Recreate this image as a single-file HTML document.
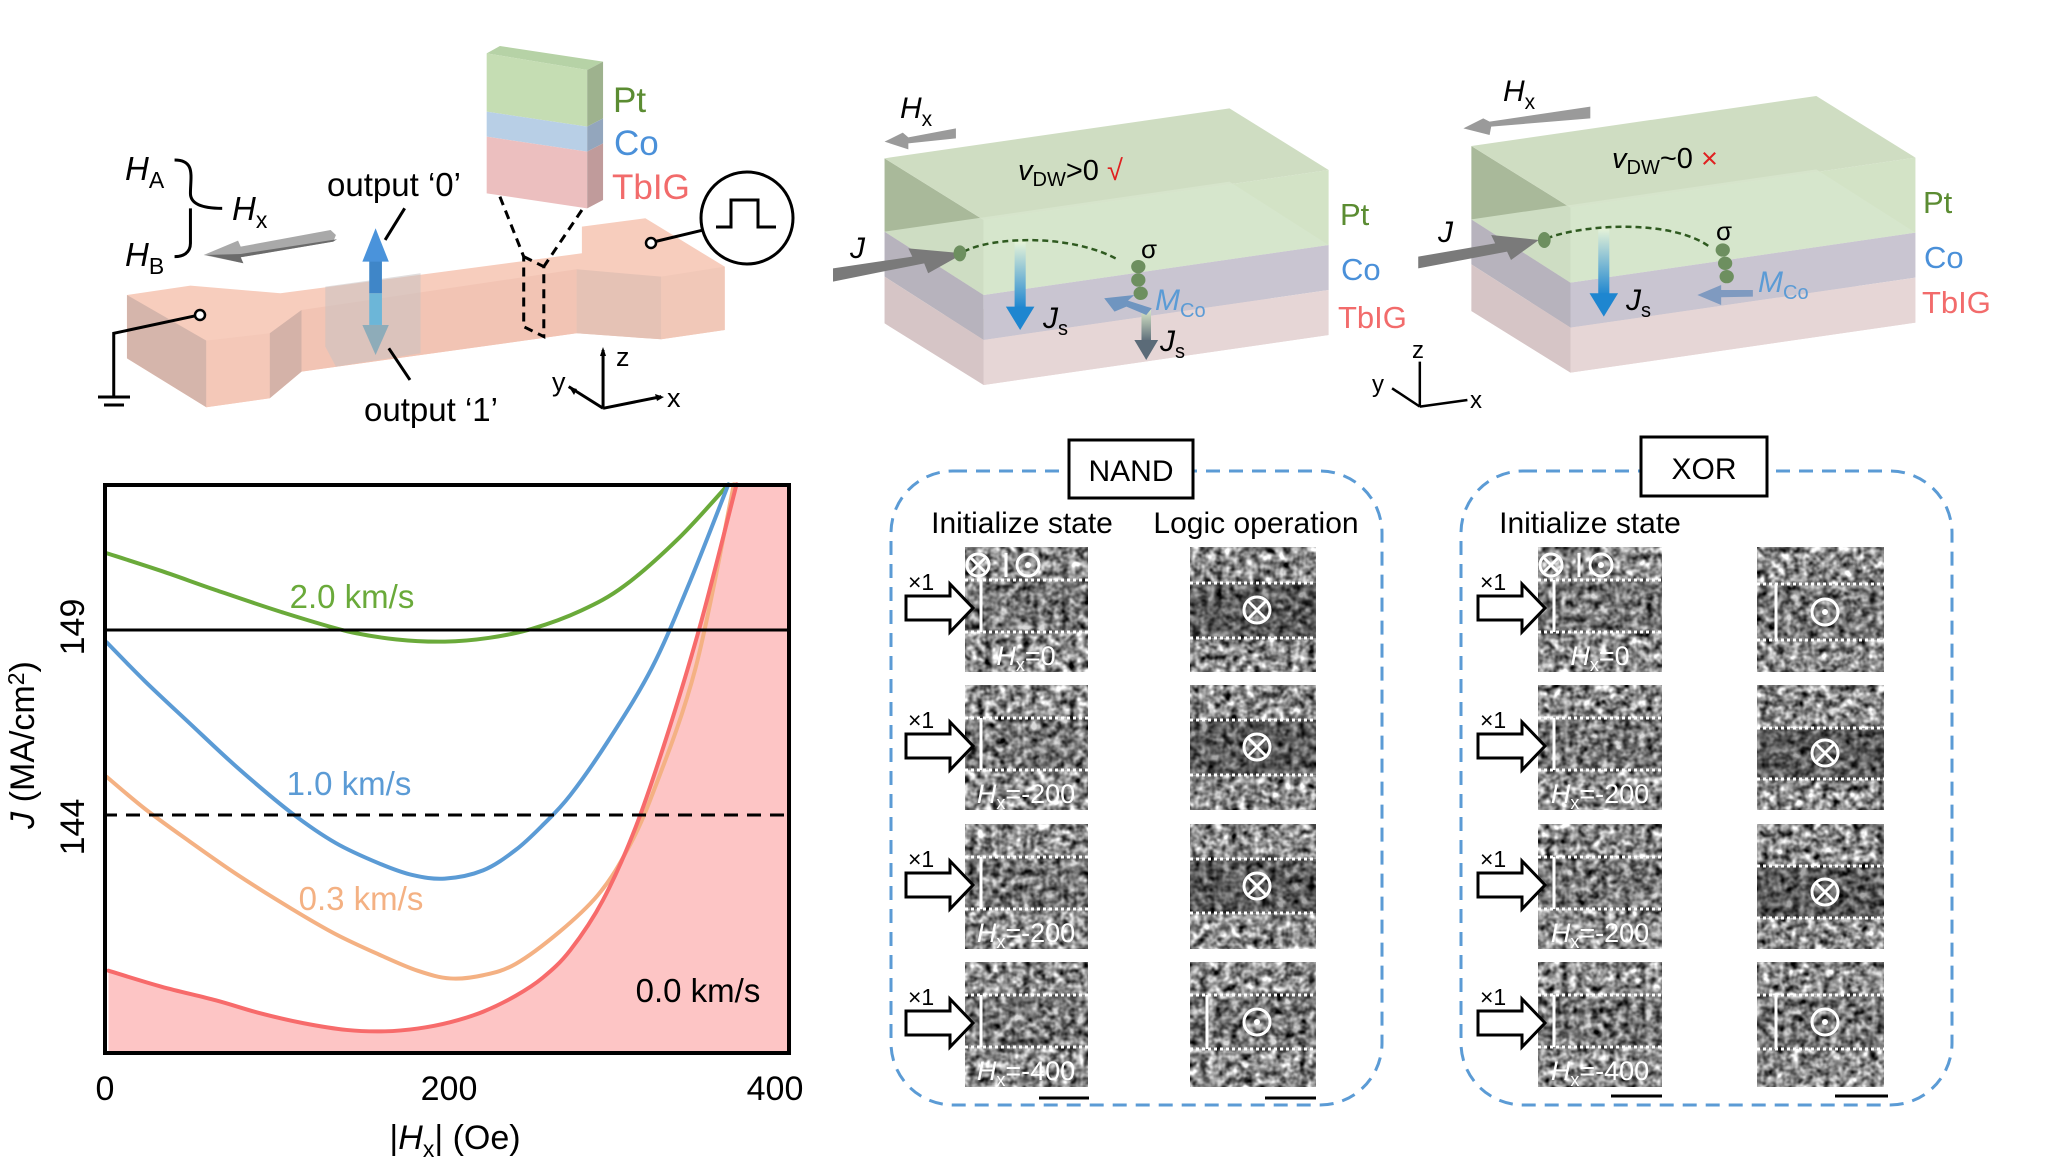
<!DOCTYPE html>
<html><head><meta charset="utf-8"><style>
html,body{margin:0;padding:0;background:#fff}
svg{display:block}
text{font-family:"Liberation Sans",sans-serif}
</style></head><body>
<svg id="root" width="2051" height="1162" viewBox="0 0 2051 1162" xmlns="http://www.w3.org/2000/svg">
<defs>
<filter id="nz" x="0" y="0" width="1" height="1" color-interpolation-filters="sRGB">
<feTurbulence type="fractalNoise" baseFrequency="0.13" numOctaves="2" seed="3"/>
<feColorMatrix type="matrix" values="1.1 1.1 0 0 -0.55  1.1 1.1 0 0 -0.55  1.1 1.1 0 0 -0.55  0 0 0 0 1"/>
</filter>
<linearGradient id="gjs" x1="0" y1="0" x2="0" y2="1"><stop offset="0" stop-color="#e6f3d8"/><stop offset="1" stop-color="#1e86d0"/></linearGradient>
<linearGradient id="gjs2" x1="0" y1="0" x2="0" y2="1"><stop offset="0" stop-color="#d8e6c8"/><stop offset="1" stop-color="#5b6b78"/></linearGradient>
</defs>

<!-- ============ TOP LEFT DEVICE ============ -->
<g transform="scale(0.529,0.3333)">
 <polygon points="240,885 360,857 530,880 1100,760 1100,680 1220,655 1370,800 1370,990 1250,1018 1090,1000 570,1115 510,1195 390,1222 240,1075" fill="#f7cdbd"/>
 <polygon points="240,885 390,1022 390,1222 240,1075" fill="#d5b5ab"/>
 <polygon points="390,1022 510,1000 510,1195 390,1222" fill="#f4c8b8"/>
 <polygon points="510,1000 570,930 570,1115 510,1195" fill="#d4b2a8"/>
 <polygon points="570,930 1090,808 1090,1000 570,1115" fill="#f2c4b4"/>
 <polygon points="1090,808 1250,830 1250,1018 1090,1000" fill="#e5c2b5"/>
 <polygon points="1250,830 1370,800 1370,990 1250,1018" fill="#f1c8b8"/>
 <polygon points="615,860 795,820 795,1060 635,1100 615,1040" fill="#c9c3c3" fill-opacity="0.55"/>
 <polygon points="920,160 945,138 1140,185 1110,210" fill="#b6d2a6"/>
 <polygon points="920,160 1110,210 1110,380 920,335" fill="#c5ddb3"/>
 <polygon points="920,335 1110,380 1110,455 920,410" fill="#b8cfe6"/>
 <polygon points="920,410 1110,455 1110,625 920,580" fill="#ecbfbf"/>
 <polygon points="1110,210 1140,185 1140,355 1110,380" fill="#9eb28e"/>
 <polygon points="1110,380 1140,355 1140,430 1110,455" fill="#93a6bd"/>
 <polygon points="1110,455 1140,430 1140,600 1110,625" fill="#c09b9b"/>
 <g fill="none" stroke="#000" stroke-width="3" stroke-dasharray="9 6">
  <line x1="945" y1="590" x2="990" y2="770" vector-effect="non-scaling-stroke"/>
  <line x1="1100" y1="630" x2="1028" y2="800" vector-effect="non-scaling-stroke"/>
  <polyline points="990,770 1028,800 1028,1010 990,980 990,770" vector-effect="non-scaling-stroke"/>
 </g>
 <polygon points="635,705 625,690 455,740 450,722 385,765 460,790 455,772 630,725" fill="#a9a9a9"/>
 <polygon points="390,765 460,790 455,772 630,725 637,718 455,762" fill="#6b6b6b"/>
 <rect x="698" y="780" width="24" height="100" fill="#3f86c8"/>
 <polygon points="685,785 710,685 735,785" fill="#4a93db"/>
 <rect x="698" y="880" width="24" height="95" fill="#6cb6d8"/>
 <polygon points="685,975 735,975 710,1065" fill="#7aa6b8" fill-opacity="0.8"/>
 <g stroke="#000" stroke-width="3" fill="none">
  <line x1="765" y1="625" x2="728" y2="720" vector-effect="non-scaling-stroke"/>
  <line x1="775" y1="1140" x2="735" y2="1045" vector-effect="non-scaling-stroke"/>
  <polyline points="377,945 215,1000 215,1190" vector-effect="non-scaling-stroke"/>
  <line x1="1230" y1="728" x2="1330" y2="690" vector-effect="non-scaling-stroke"/>
  <polyline points="1140,1225 1140,1050" vector-effect="non-scaling-stroke"/>
  <polyline points="1140,1225 1250,1190" vector-effect="non-scaling-stroke"/>
  <polyline points="1140,1225 1075,1160" vector-effect="non-scaling-stroke"/>
  <path d="M330,480 C370,480 360,530 360,580 C360,610 380,625 420,625 M360,625 C360,660 360,700 360,730 C360,760 345,770 330,770" vector-effect="non-scaling-stroke"/>
 </g>
</g>
<line x1="98" y1="397" x2="130" y2="397" stroke="#000" stroke-width="3"/>
<line x1="104" y1="405" x2="124" y2="405" stroke="#000" stroke-width="3"/>
<circle cx="200" cy="315" r="5" fill="#fff" stroke="#000" stroke-width="2.5"/>
<circle cx="651" cy="243" r="5" fill="#fff" stroke="#000" stroke-width="2.5"/>
<circle cx="747" cy="218" r="46" fill="#fff" stroke="#000" stroke-width="3"/>
<polyline points="716,227 731,227 731,200 758,200 758,227 776,227" fill="none" stroke="#000" stroke-width="3"/>
<polygon points="603,347 600,356 606,356" fill="#000"/>
<polygon points="664,397 655,394 657,401" fill="#000"/>
<polygon points="569,387 574,395 577,389" fill="#000"/>
<g font-size="33">
 <text x="125" y="180" font-style="italic">H<tspan font-size="23" font-style="normal" dy="8">A</tspan></text>
 <text x="125" y="266" font-style="italic">H<tspan font-size="23" font-style="normal" dy="8">B</tspan></text>
 <text x="232" y="220" font-style="italic">H<tspan font-size="23" font-style="normal" dy="8">x</tspan></text>
 <text x="394" y="196" text-anchor="middle" font-size="33">output ‘0’</text>
 <text x="431" y="421" text-anchor="middle" font-size="33">output ‘1’</text>
 <text x="613" y="112" fill="#5b8c32" font-size="35">Pt</text>
 <text x="614" y="155" fill="#4a90d9" font-size="35">Co</text>
 <text x="612" y="199" fill="#f26b6b" font-size="35">TbIG</text>
 <text x="616" y="366" font-size="27">z</text>
 <text x="667" y="407" font-size="27">x</text>
 <text x="552" y="391" font-size="27">y</text>
</g>

<!-- ============ TOP MIDDLE/RIGHT BOXES ============ -->
<g transform="translate(833,60) scale(0.793,0.3333)">
 <g>
  <polygon points="65,790 190,975 625,825 500,640" fill="#e8d8d8"/>
  <polygon points="65,295 190,480 190,705 65,515" fill="#a9b99a"/>
  <polygon points="65,515 190,705 190,840 65,650" fill="#b7b3bd"/>
  <polygon points="65,650 190,840 190,975 65,790" fill="#d6c5c6"/>
  <polygon points="190,480 625,330 625,555 190,705" fill="#d3e3c6"/>
  <polygon points="190,705 625,555 625,690 190,840" fill="#c9c5d1"/>
  <polygon points="190,840 625,690 625,825 190,975" fill="#e6d6d6"/>
  <polygon points="65,295 500,145 625,330 190,480" fill="#cfddc2"/>
  <polygon points="65,515 500,365 625,555 190,705" fill="#d7e6cd" fill-opacity="0.8"/>
 </g>
 <g transform="translate(740,-37)">
  <polygon points="65,790 190,975 625,825 500,640" fill="#e8d8d8"/>
  <polygon points="65,295 190,480 190,705 65,515" fill="#a9b99a"/>
  <polygon points="65,515 190,705 190,840 65,650" fill="#b7b3bd"/>
  <polygon points="65,650 190,840 190,975 65,790" fill="#d6c5c6"/>
  <polygon points="190,480 625,330 625,555 190,705" fill="#d3e3c6"/>
  <polygon points="190,705 625,555 625,690 190,840" fill="#c9c5d1"/>
  <polygon points="190,840 625,690 625,825 190,975" fill="#e6d6d6"/>
  <polygon points="65,295 500,145 625,330 190,480" fill="#cfddc2"/>
  <polygon points="65,515 500,365 625,555 190,705" fill="#d7e6cd" fill-opacity="0.8"/>
 </g>
 <polygon points="155,205 155,235 95,250 95,268 65,245 88,218 95,232" fill="#9a9a9a"/>
 <polygon points="955,140 955,175 830,200 828,225 795,205 820,175 828,185" fill="#9a9a9a"/>
 <polygon points="0,625 0,665 115,610 120,640 165,580 95,565 100,590" fill="#7a7a7a"/>
 <polygon points="738,590 738,625 850,575 855,600 890,540 830,525 835,550" fill="#7a7a7a"/>
 <rect x="229" y="545" width="14" height="200" fill="url(#gjs)"/>
 <polygon points="218,740 254,740 236,810" fill="#1e86d0"/>
 <rect x="965" y="505" width="14" height="200" fill="url(#gjs)"/>
 <polygon points="954,700 990,700 972,770" fill="#1e86d0"/>
 <rect x="389" y="750" width="12" height="95" fill="url(#gjs2)"/>
 <polygon points="380,840 410,840 395,900" fill="#5b6b78"/>
 <polygon points="402,745 395,765 370,740 355,755 342,715 380,705 372,722" fill="#6f95c0"/>
 <polygon points="1160,690 1160,710 1120,712 1120,735 1090,705 1120,675 1120,690" fill="#7f9ac0"/>
 <g fill="none" stroke="#2f5a20" stroke-width="2.5" stroke-dasharray="6 4">
  <path d="M165,575 C200,530 300,520 360,600" vector-effect="non-scaling-stroke"/>
  <path d="M900,535 C950,490 1060,480 1105,560" vector-effect="non-scaling-stroke"/>
 </g>
 <g fill="#6d8f5f">
  <ellipse cx="160" cy="580" rx="8" ry="24"/>
  <ellipse cx="385" cy="620" rx="9" ry="20"/><ellipse cx="385" cy="660" rx="9" ry="20"/><ellipse cx="388" cy="700" rx="9" ry="20"/>
  <ellipse cx="897" cy="540" rx="8" ry="24"/>
  <ellipse cx="1122" cy="570" rx="9" ry="20"/><ellipse cx="1125" cy="610" rx="9" ry="20"/><ellipse cx="1127" cy="650" rx="9" ry="20"/>
 </g>
 <g stroke="#000" stroke-width="2.5">
  <line x1="740" y1="1040" x2="740" y2="905" vector-effect="non-scaling-stroke"/>
  <line x1="740" y1="1040" x2="800" y2="1020" vector-effect="non-scaling-stroke"/>
  <line x1="740" y1="1040" x2="705" y2="985" vector-effect="non-scaling-stroke"/>
 </g>
</g>
<g font-size="30">
 <text x="900" y="118" font-style="italic">H<tspan font-size="21" font-style="normal" dy="8">x</tspan></text>
 <text x="1503" y="101" font-style="italic">H<tspan font-size="21" font-style="normal" dy="8">x</tspan></text>
 <text x="1018" y="180" font-size="29"><tspan font-style="italic">v</tspan><tspan font-size="20" dy="6">DW</tspan><tspan dy="-6">&gt;0 </tspan><tspan fill="#e02020">√</tspan></text>
 <text x="1612" y="168" font-size="29"><tspan font-style="italic">v</tspan><tspan font-size="20" dy="6">DW</tspan><tspan dy="-6">~0 </tspan><tspan fill="#e02020">×</tspan></text>
 <text x="1340" y="225" fill="#5b8c32" font-size="31">Pt</text>
 <text x="1341" y="280" fill="#4a90d9" font-size="31">Co</text>
 <text x="1338" y="328" fill="#f26b6b" font-size="31">TbIG</text>
 <text x="1923" y="213" fill="#5b8c32" font-size="31">Pt</text>
 <text x="1924" y="268" fill="#4a90d9" font-size="31">Co</text>
 <text x="1922" y="313" fill="#f26b6b" font-size="31">TbIG</text>
 <text x="850" y="258" font-style="italic">J</text>
 <text x="1438" y="242" font-style="italic">J</text>
 <text x="1043" y="328" font-style="italic">J<tspan font-size="20" font-style="normal" dy="7">s</tspan></text>
 <text x="1160" y="351" font-style="italic">J<tspan font-size="20" font-style="normal" dy="7">s</tspan></text>
 <text x="1626" y="310" font-style="italic">J<tspan font-size="20" font-style="normal" dy="7">s</tspan></text>
 <text x="1155" y="310" font-style="italic" fill="#5b9bd5">M<tspan font-size="20" font-style="normal" dy="7">Co</tspan></text>
 <text x="1758" y="292" font-style="italic" fill="#5b9bd5">M<tspan font-size="20" font-style="normal" dy="7">Co</tspan></text>
 <text x="1141" y="258" font-size="26">σ</text>
 <text x="1716" y="240" font-size="26">σ</text>
 <text x="1412" y="358" font-size="24">z</text>
 <text x="1470" y="408" font-size="24">x</text>
 <text x="1372" y="392" font-size="24">y</text>
</g>

<!-- ============ CHART ============ -->
<g transform="translate(-2.2,448.8) scale(0.5452,0.4558)">
 <path id="fillp" d="M203,1145 L1355,78 L1455,78 L1455,1330 L203,1330 Z" fill="#fdc5c5"/>
 <g fill="none" stroke-width="4" stroke-linejoin="round" stroke-linecap="round">
 <polyline class="sm" vector-effect="non-scaling-stroke" stroke="#6aaa3a" points="197,228 300,268 400,310 520,358 640,400 730,418 820,423 900,415 980,395 1070,355 1150,300 1250,195 1340,78"/>
 <polyline class="sm" vector-effect="non-scaling-stroke" stroke="#5b9bd5" points="200,425 270,510 350,600 440,700 540,800 620,865 700,910 760,935 820,943 890,925 950,880 1000,825 1050,760 1120,640 1200,480 1270,290 1340,78"/>
 <polyline class="sm" vector-effect="non-scaling-stroke" stroke="#f4b183" points="200,720 270,790 350,860 440,935 540,1010 620,1065 700,1110 770,1145 830,1162 890,1155 950,1130 1030,1060 1100,980 1150,890 1200,760 1280,480 1350,78"/>
 <polyline id="redl" class="sm" vector-effect="non-scaling-stroke" stroke="#f76b6b" points="203,1145 300,1180 400,1210 480,1238 560,1260 640,1275 710,1278 770,1272 830,1258 890,1235 950,1200 1000,1160 1050,1100 1110,990 1170,830 1230,620 1290,380 1355,78"/>
 </g>
</g>
<line x1="103" y1="630" x2="791" y2="630" stroke="#000" stroke-width="3"/>
<line x1="103" y1="815" x2="791" y2="815" stroke="#000" stroke-width="3" stroke-dasharray="14 9"/>
<rect x="105" y="485" width="684" height="568" fill="none" stroke="#000" stroke-width="4"/>
<g font-size="33">
 <text x="352" y="608" text-anchor="middle" fill="#6aaa3a">2.0 km/s</text>
 <text x="349" y="795" text-anchor="middle" fill="#5b9bd5">1.0 km/s</text>
 <text x="361" y="910" text-anchor="middle" fill="#f4b183">0.3 km/s</text>
 <text x="698" y="1002" text-anchor="middle" fill="#000">0.0 km/s</text>
 <text x="105" y="1100" text-anchor="middle" font-size="34">0</text>
 <text x="449" y="1100" text-anchor="middle" font-size="34">200</text>
 <text x="775" y="1100" text-anchor="middle" font-size="34">400</text>
 <text x="455" y="1149" text-anchor="middle" font-size="34">|<tspan font-style="italic">H</tspan><tspan font-size="23" dy="8">x</tspan><tspan dy="-8">| (Oe)</tspan></text>
 <text transform="translate(84,627) rotate(-90)" text-anchor="middle" font-size="34">149</text>
 <text transform="translate(84,827) rotate(-90)" text-anchor="middle" font-size="34">144</text>
 <text transform="translate(34,745) rotate(-90)" text-anchor="middle" font-size="34"><tspan font-style="italic">J</tspan> (MA/cm<tspan font-size="23" dy="-10">2</tspan><tspan dy="10">)</tspan></text>
</g>

<!-- ============ LOGIC PANELS ============ -->
<g fill="none" stroke="#5b9bd5" stroke-width="3" stroke-dasharray="14 9">
 <rect x="891" y="471" width="491" height="634" rx="62"/>
 <rect x="1461" y="471" width="491" height="634" rx="62"/>
</g>
<rect x="1069" y="440" width="124" height="58" fill="#fff" stroke="#000" stroke-width="3"/>
<rect x="1641" y="437" width="126" height="59" fill="#fff" stroke="#000" stroke-width="3"/>
<g font-size="30">
 <text x="1131" y="481" text-anchor="middle">NAND</text>
 <text x="1704" y="479" text-anchor="middle">XOR</text>
 <text x="1022" y="533" text-anchor="middle">Initialize state</text>
 <text x="1256" y="533" text-anchor="middle">Logic operation</text>
 <text x="1590" y="533" text-anchor="middle">Initialize state</text>
</g>

<g>
 <rect filter="url(#nz)" x="965" y="547" width="123" height="125" fill="#888"/>
 <rect filter="url(#nz)" x="965" y="685" width="123" height="125" fill="#888"/>
 <rect filter="url(#nz)" x="965" y="824" width="123" height="125" fill="#888"/>
 <rect filter="url(#nz)" x="965" y="962" width="123" height="125" fill="#888"/>
 <rect filter="url(#nz)" x="1190" y="547" width="126" height="125" fill="#888"/>
 <rect filter="url(#nz)" x="1190" y="685" width="126" height="125" fill="#888"/>
 <rect filter="url(#nz)" x="1190" y="824" width="126" height="125" fill="#888"/>
 <rect filter="url(#nz)" x="1190" y="962" width="126" height="125" fill="#888"/>
 <rect filter="url(#nz)" x="1538" y="547" width="124" height="125" fill="#888"/>
 <rect filter="url(#nz)" x="1538" y="685" width="124" height="125" fill="#888"/>
 <rect filter="url(#nz)" x="1538" y="824" width="124" height="125" fill="#888"/>
 <rect filter="url(#nz)" x="1538" y="962" width="124" height="125" fill="#888"/>
 <rect filter="url(#nz)" x="1757" y="547" width="127" height="125" fill="#888"/>
 <rect filter="url(#nz)" x="1757" y="685" width="127" height="125" fill="#888"/>
 <rect filter="url(#nz)" x="1757" y="824" width="127" height="125" fill="#888"/>
 <rect filter="url(#nz)" x="1757" y="962" width="127" height="125" fill="#888"/>
 <g fill="#000" fill-opacity="0.15">
  <rect x="965" y="580" width="123" height="52"/><rect x="965" y="718" width="123" height="52"/><rect x="965" y="857" width="123" height="52"/><rect x="965" y="995" width="123" height="52"/>
  <rect x="1538" y="580" width="124" height="52"/><rect x="1538" y="718" width="124" height="52"/><rect x="1538" y="857" width="124" height="52"/><rect x="1538" y="995" width="124" height="52"/>
  <rect x="1757" y="584" width="127" height="56"/><rect x="1757" y="995" width="127" height="54"/><rect x="1190" y="995" width="126" height="54"/>
 </g>
 <g fill="#000" fill-opacity="0.35">
  <rect x="1190" y="583" width="126" height="55"/><rect x="1190" y="720" width="126" height="55"/><rect x="1190" y="859" width="126" height="54"/>
  <rect x="1757" y="728" width="127" height="51"/><rect x="1757" y="866" width="127" height="52"/>
 </g>
 <g stroke="#fff" stroke-width="3" stroke-dasharray="3 3">
  <line x1="965" y1="580" x2="1088" y2="580"/><line x1="965" y1="632" x2="1088" y2="632"/>
  <line x1="965" y1="718" x2="1088" y2="718"/><line x1="965" y1="770" x2="1088" y2="770"/>
  <line x1="965" y1="857" x2="1088" y2="857"/><line x1="965" y1="909" x2="1088" y2="909"/>
  <line x1="965" y1="995" x2="1088" y2="995"/><line x1="965" y1="1047" x2="1088" y2="1047"/>
  <line x1="1190" y1="583" x2="1316" y2="583"/><line x1="1190" y1="638" x2="1316" y2="638"/>
  <line x1="1190" y1="720" x2="1316" y2="720"/><line x1="1190" y1="775" x2="1316" y2="775"/>
  <line x1="1190" y1="859" x2="1316" y2="859"/><line x1="1190" y1="913" x2="1316" y2="913"/>
  <line x1="1190" y1="995" x2="1316" y2="995"/><line x1="1190" y1="1049" x2="1316" y2="1049"/>
  <line x1="1538" y1="580" x2="1662" y2="580"/><line x1="1538" y1="632" x2="1662" y2="632"/>
  <line x1="1538" y1="718" x2="1662" y2="718"/><line x1="1538" y1="770" x2="1662" y2="770"/>
  <line x1="1538" y1="857" x2="1662" y2="857"/><line x1="1538" y1="909" x2="1662" y2="909"/>
  <line x1="1538" y1="995" x2="1662" y2="995"/><line x1="1538" y1="1047" x2="1662" y2="1047"/>
  <line x1="1757" y1="584" x2="1884" y2="584"/><line x1="1757" y1="640" x2="1884" y2="640"/>
  <line x1="1757" y1="728" x2="1884" y2="728"/><line x1="1757" y1="779" x2="1884" y2="779"/>
  <line x1="1757" y1="866" x2="1884" y2="866"/><line x1="1757" y1="918" x2="1884" y2="918"/>
  <line x1="1757" y1="995" x2="1884" y2="995"/><line x1="1757" y1="1049" x2="1884" y2="1049"/>
 </g>
 <g stroke="#fff" stroke-width="3">
  <line x1="981" y1="580" x2="981" y2="632"/><line x1="981" y1="718" x2="981" y2="770"/><line x1="981" y1="857" x2="981" y2="909"/><line x1="981" y1="995" x2="981" y2="1047"/>
  <line x1="1554" y1="580" x2="1554" y2="632"/><line x1="1554" y1="718" x2="1554" y2="770"/><line x1="1554" y1="857" x2="1554" y2="909"/><line x1="1554" y1="995" x2="1554" y2="1047"/>
  <line x1="1207" y1="995" x2="1207" y2="1049"/>
  <line x1="1776" y1="584" x2="1776" y2="640"/><line x1="1776" y1="995" x2="1776" y2="1049"/>
 </g>
 <g fill="none" stroke="#fff" stroke-width="3">
  <circle cx="978" cy="565" r="11"/><line x1="970" y1="557" x2="986" y2="573"/><line x1="986" y1="557" x2="970" y2="573"/>
  <line x1="1006" y1="553" x2="1006" y2="577"/><circle cx="1028" cy="565" r="11"/>
  <circle cx="1551" cy="565" r="11"/><line x1="1543" y1="557" x2="1559" y2="573"/><line x1="1559" y1="557" x2="1543" y2="573"/>
  <line x1="1579" y1="553" x2="1579" y2="577"/><circle cx="1601" cy="565" r="11"/>
 </g>
 <g fill="#fff"><circle cx="1028" cy="565" r="3"/><circle cx="1601" cy="565" r="3"/>
  <circle cx="1257" cy="1022" r="3"/><circle cx="1825" cy="612" r="3"/><circle cx="1825" cy="1022" r="3"/></g>
 <g fill="none" stroke="#fff" stroke-width="3">
  <circle cx="1257" cy="610" r="13"/><path d="M1248,601 L1266,619 M1266,601 L1248,619"/>
  <circle cx="1257" cy="747" r="13"/><path d="M1248,738 L1266,756 M1266,738 L1248,756"/>
  <circle cx="1257" cy="886" r="13"/><path d="M1248,877 L1266,895 M1266,877 L1248,895"/>
  <circle cx="1257" cy="1022" r="13"/>
  <circle cx="1825" cy="612" r="13"/>
  <circle cx="1825" cy="753" r="13"/><path d="M1816,744 L1834,762 M1834,744 L1816,762"/>
  <circle cx="1825" cy="892" r="13"/><path d="M1816,883 L1834,901 M1834,883 L1816,901"/>
  <circle cx="1825" cy="1022" r="13"/>
 </g>
 <g fill="#fff" font-size="27" text-anchor="middle">
  <text x="1026" y="665"><tspan font-style="italic">H</tspan><tspan font-size="18" dy="6">x</tspan><tspan dy="-6">=0</tspan></text>
  <text x="1026" y="803"><tspan font-style="italic">H</tspan><tspan font-size="18" dy="6">x</tspan><tspan dy="-6">=-200</tspan></text>
  <text x="1026" y="942"><tspan font-style="italic">H</tspan><tspan font-size="18" dy="6">x</tspan><tspan dy="-6">=-200</tspan></text>
  <text x="1026" y="1080"><tspan font-style="italic">H</tspan><tspan font-size="18" dy="6">x</tspan><tspan dy="-6">=-400</tspan></text>
  <text x="1600" y="665"><tspan font-style="italic">H</tspan><tspan font-size="18" dy="6">x</tspan><tspan dy="-6">=0</tspan></text>
  <text x="1600" y="803"><tspan font-style="italic">H</tspan><tspan font-size="18" dy="6">x</tspan><tspan dy="-6">=-200</tspan></text>
  <text x="1600" y="942"><tspan font-style="italic">H</tspan><tspan font-size="18" dy="6">x</tspan><tspan dy="-6">=-200</tspan></text>
  <text x="1600" y="1080"><tspan font-style="italic">H</tspan><tspan font-size="18" dy="6">x</tspan><tspan dy="-6">=-400</tspan></text>
 </g>
</g>
<g fill="#fff" stroke="#000" stroke-width="3">
 <polygon points="906,596 950,596 950,584 973,608 950,632 950,620 906,620"/>
 <polygon points="906,734 950,734 950,722 973,746 950,770 950,758 906,758"/>
 <polygon points="906,873 950,873 950,861 973,885 950,909 950,897 906,897"/>
 <polygon points="906,1011 950,1011 950,999 973,1023 950,1047 950,1035 906,1035"/>
 <polygon points="1478,596 1522,596 1522,584 1545,608 1522,632 1522,620 1478,620"/>
 <polygon points="1478,734 1522,734 1522,722 1545,746 1522,770 1522,758 1478,758"/>
 <polygon points="1478,873 1522,873 1522,861 1545,885 1522,909 1522,897 1478,897"/>
 <polygon points="1478,1011 1522,1011 1522,999 1545,1023 1522,1047 1522,1035 1478,1035"/>
</g>
<g font-size="23">
 <text x="908" y="590">×1</text><text x="908" y="728">×1</text><text x="908" y="867">×1</text><text x="908" y="1005">×1</text>
 <text x="1480" y="590">×1</text><text x="1480" y="728">×1</text><text x="1480" y="867">×1</text><text x="1480" y="1005">×1</text>
</g>
<g stroke="#000" stroke-width="3">
 <line x1="1039" y1="1098" x2="1089" y2="1098"/><line x1="1265" y1="1098" x2="1316" y2="1098"/>
 <line x1="1611" y1="1096" x2="1662" y2="1096"/><line x1="1835" y1="1096" x2="1888" y2="1096"/>
</g>
<script><![CDATA[
(function(){
 function cr(pts){
  var d="M"+pts[0][0]+","+pts[0][1];
  for(var i=0;i<pts.length-1;i++){
   var p0=pts[i-1]||pts[i],p1=pts[i],p2=pts[i+1],p3=pts[i+2]||p2;
   var c1x=p1[0]+(p2[0]-p0[0])/6,c1y=p1[1]+(p2[1]-p0[1])/6;
   var c2x=p2[0]-(p3[0]-p1[0])/6,c2y=p2[1]-(p3[1]-p1[1])/6;
   d+=" C"+c1x+","+c1y+" "+c2x+","+c2y+" "+p2[0]+","+p2[1];
  }
  return d;
 }
 var ns="http://www.w3.org/2000/svg";
 var ls=document.querySelectorAll("polyline.sm");
 for(var k=0;k<ls.length;k++){
  var pl=ls[k];
  var pts=pl.getAttribute("points").trim().split(/\s+/).map(function(s){return s.split(",").map(Number);});
  var d=cr(pts);
  if(pl.id==="redl"){
   document.getElementById("fillp").setAttribute("d",d+" L1455,78 L1455,1330 L203,1330 Z");
  }
  var p=document.createElementNS(ns,"path");
  p.setAttribute("d",d);
  p.setAttribute("stroke",pl.getAttribute("stroke"));
  p.setAttribute("vector-effect","non-scaling-stroke");
  pl.parentNode.replaceChild(p,pl);
 }
})();
]]></script>
</svg>
</body></html>
